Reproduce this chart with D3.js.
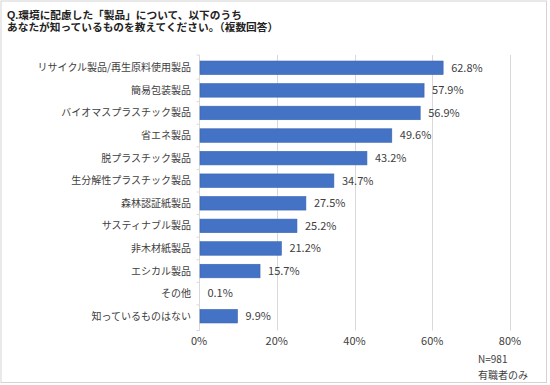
<!DOCTYPE html>
<html><head><meta charset="utf-8">
<script src="https://cdn.jsdelivr.net/npm/d3@7"></script>
<style>html,body{margin:0;padding:0;background:#fff;}svg{display:block;}</style>
</head><body>
<svg id="c" width="550" height="385"></svg>
<script>
const titleLines = ["Q.環境に配慮した「製品」について、以下のうち", "あなたが知っているものを教えてください。（複数回答）"];
const categories = ["リサイクル製品/再生原料使用製品","簡易包装製品","バイオマスプラスチック製品","省エネ製品","脱プラスチック製品","生分解性プラスチック製品","森林認証紙製品","サスティナブル製品","非木材紙製品","エシカル製品","その他","知っているものはない"];
const values = [62.8,57.9,56.9,49.6,43.2,34.7,27.5,25.2,21.2,15.7,0.1,9.9];
const ticks = [0,20,40,60,80];
const notes = ["N=981","有職者のみ"];

const font = "'Noto Sans CJK JP','Noto Sans',sans-serif";
const svg = d3.select("#c");
svg.append("rect").attr("x",1).attr("y",1).attr("width",545.5).attr("height",381.5)
  .attr("fill","#fff").attr("stroke","#d4d4d4").attr("stroke-width",1);

svg.selectAll("text.title").data(titleLines).join("text").attr("class","title")
  .attr("x",7).attr("y",(d,i)=>19+i*12)
  .attr("font-family","'Liberation Sans','Noto Sans CJK JP',sans-serif").attr("font-size",10.7)
  .attr("font-weight","bold").attr("fill","#222").text(d=>d);

const x = d3.scaleLinear().domain([0,80]).range([199,510]);
const y = d3.scaleBand().domain(categories).range([56.5,327.5]).paddingInner(0.4).paddingOuter(0.2);
const gTop = 55, gBot = 330.5;

// gridlines
svg.append("g").selectAll("line").data(ticks.slice(1)).join("line")
  .attr("x1",d=>Math.round(x(d))+0.5).attr("x2",d=>Math.round(x(d))+0.5)
  .attr("y1",gTop).attr("y2",gBot).attr("stroke","#d9d9d9").attr("stroke-width",1);

// category axis line + ticks
const ax = Math.round(x(0))+0.5;
svg.append("line").attr("x1",ax).attr("x2",ax).attr("y1",gTop).attr("y2",gBot).attr("stroke","#d9d9d9");
const bounds = categories.map((c,i)=> i===0 ? gTop : y(c) - y.step()*y.paddingInner()/2).concat([gBot]);
svg.append("g").selectAll("line").data(bounds).join("line")
  .attr("x1",ax-3).attr("x2",ax).attr("y1",d=>d).attr("y2",d=>d).attr("stroke","#d9d9d9");

// bars
svg.append("g").selectAll("rect").data(values).join("rect")
  .attr("x",x(0)+1).attr("y",(d,i)=>y(categories[i]))
  .attr("width",d=>Math.max(0,x(d)-x(0)-1)).attr("height",y.bandwidth())
  .attr("fill","#4472c4").attr("stroke","#3b66b5").attr("stroke-width",0.6);

// value labels
svg.append("g").selectAll("text").data(values).join("text")
  .attr("x",d=>x(d)+8).attr("y",(d,i)=>y(categories[i])+y.bandwidth()/2)
  .attr("dy","0.35em").attr("font-family",font).attr("font-size",11).attr("fill","#404040")
  .text(d=>d.toFixed(1)+"%");

// category labels
svg.append("g").selectAll("text").data(categories).join("text")
  .attr("x",191).attr("y",d=>y(d)+y.bandwidth()/2).attr("dy","0.35em")
  .attr("text-anchor","end").attr("font-family",font).attr("font-size",10).attr("fill","#404040")
  .text(d=>d);

// x tick labels
svg.append("g").selectAll("text").data(ticks).join("text")
  .attr("x",d=>x(d)).attr("y",345).attr("text-anchor","middle")
  .attr("font-family",font).attr("font-size",11).attr("fill","#404040").text(d=>d+"%");

svg.selectAll("text.note").data(notes).join("text").attr("class","note")
  .attr("x",478).attr("y",(d,i)=>363+i*15.5).attr("font-family",font).attr("font-size",10)
  .attr("fill","#404040").text(d=>d);
</script>
</body></html>
